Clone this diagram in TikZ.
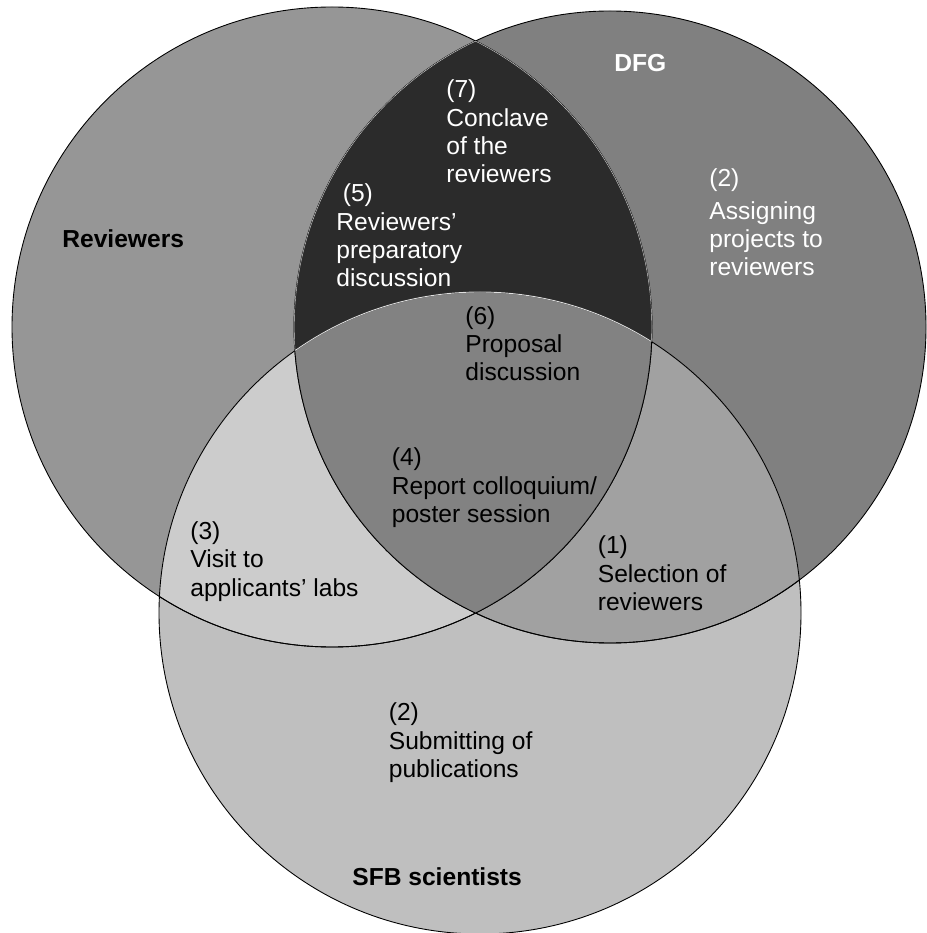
\documentclass[tikz,border=0pt]{standalone}
\usepackage{fontspec}
\setmainfont{Liberation Sans}
\usetikzlibrary{positioning}
\tikzset{
	>=stealth,
}
\definecolor{revgray}{gray}{0.59}
\definecolor{dfggray}{gray}{0.50}
\definecolor{sfbgray}{gray}{0.75}
\definecolor{revdfggray}{gray}{0.17}
\definecolor{revsfbgray}{gray}{0.80}
\definecolor{dfgsfbgray}{gray}{0.63}
\definecolor{allgray}{gray}{0.51}
\newcommand{\revcircle}{(6.64,-6.54) circle (6.4)}
\newcommand{\dfgcircle}{(12.2,-6.54) circle (6.32)}
\newcommand{\sfbcircle}{(9.6,-12.26) circle (6.42)}

\begin{document}
\begin{tikzpicture}[
	txt/.style = {align=left, anchor=base west, inner sep=0, font=\fontsize{14}{16.2}\selectfont},
	title/.style = {txt, font=\fontsize{14}{16.2}\selectfont\bfseries},
	rim/.style = {draw=black, line width=0.5pt}]
\useasboundingbox (0,0) rectangle (18.52,-18.66);
% areas
\fill[revgray] \revcircle;
\fill[dfggray] \dfgcircle;
\fill[sfbgray] \sfbcircle;
\begin{scope}
	\clip \dfgcircle;
	\fill[dfgsfbgray] \sfbcircle;
\end{scope}
\begin{scope}
	\clip \revcircle;
	\fill[revdfggray] \dfgcircle;
	\fill[revsfbgray] \sfbcircle;
	\clip \dfgcircle;
	\fill[allgray] \sfbcircle;
\end{scope}
% outlines
\draw[rim] \revcircle \dfgcircle \sfbcircle;
\begin{scope}
	\clip \revcircle;
	\clip \dfgcircle;
	\draw[line width=0.5pt, gray!25] \revcircle \dfgcircle \sfbcircle;
\end{scope}
\begin{scope}
	\clip \sfbcircle;
	\draw[rim] \revcircle \dfgcircle;
\end{scope}
% titles
\node[title] (reviewers) at (1.24,-4.96) {Reviewers};
\node[title, text=white] (dfg) at (12.28,-1.43) {DFG};
\node[title] (sfb) at (7.04,-17.7) {SFB scientists};
% steps (base = last line)
\node[txt] (selection) at (11.95,-12.21) {(1)\\Selection of\\reviewers};
\node[txt, text=white] (assigning) at (14.18,-5.52) {(2)\\[0.08cm]Assigning\\projects to\\reviewers};
\node[txt] (submitting) at (7.77,-15.55) {(2)\\Submitting of\\publications};
\node[txt] (visit) at (3.80,-11.92) {(3)\\Visit to\\applicants’ labs};
\node[txt] (colloquium) at (7.83,-10.45) {(4)\\Report colloquium/\\poster session};
\node[txt, text=white] (preparatory) at (6.72,-5.74) {\hspace*{0.13cm}(5)\\Reviewers’\\preparatory\\discussion};
\node[txt] (proposal) at (9.30,-7.62) {(6)\\Proposal\\discussion};
\node[txt, text=white] (conclave) at (8.92,-3.66) {(7)\\Conclave\\of the\\reviewers};
\end{tikzpicture}
\end{document}
